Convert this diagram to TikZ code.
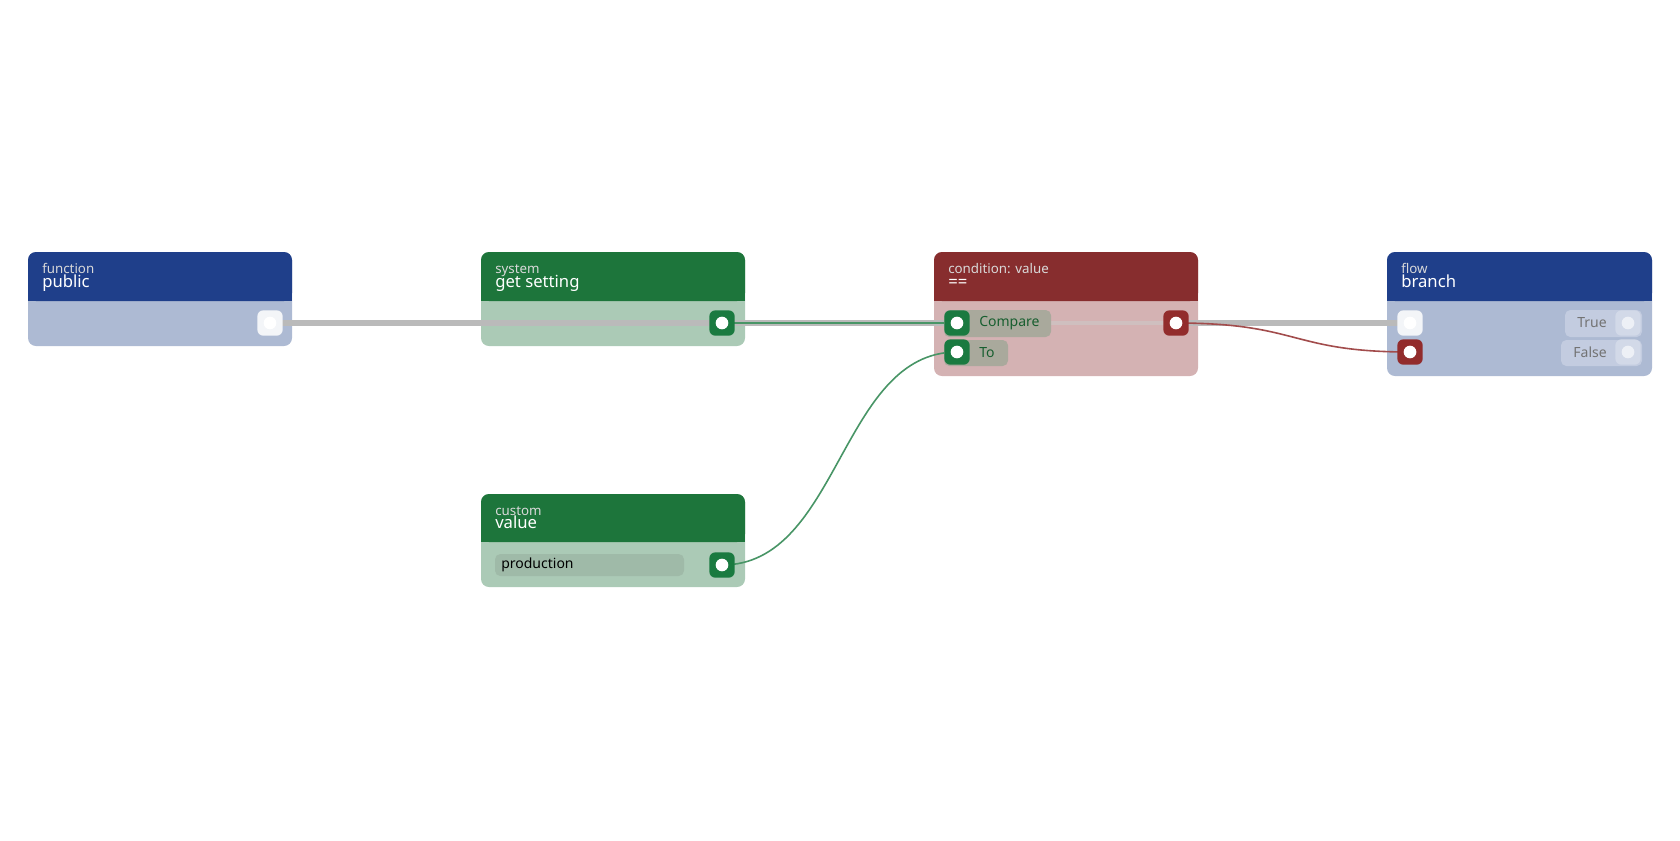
\documentclass[tikz,border=0pt]{standalone}
\usepackage{fontspec}
\setmainfont{Noto Sans}
\begin{document}
\begin{tikzpicture}[x=0.75pt,y=-0.75pt,
  port/.style={rounded corners=4.5pt, minimum size=19pt, inner sep=0},
  dot/.style={circle, fill=white, minimum size=9.5pt, inner sep=0},
  small/.style={anchor=base west, font=\fontsize{10}{10}\selectfont, text=white!85!black, inner sep=0},
  big/.style={anchor=base west, font=\fontsize{12.5}{12}\selectfont, text=white, inner sep=0},
  lbl/.style={font=\fontsize{10.5}{11}\selectfont, inner sep=0},
  gedge/.style={line width=3.8, draw=black!27}]
\definecolor{bh}{HTML}{1F3F8A}\definecolor{bb}{HTML}{ADBAD3}
\definecolor{gh}{HTML}{1D753B}\definecolor{gb}{HTML}{ABCAB6}
\definecolor{rh}{HTML}{872D2E}\definecolor{rb}{HTML}{D4B2B3}
\definecolor{gp}{HTML}{1A7A40}\definecolor{rp}{HTML}{922C2C}
\definecolor{chip}{HTML}{A9A99C}\definecolor{bchip}{HTML}{C3CCE0}
\definecolor{pchip}{HTML}{9FBAA8}
\useasboundingbox (0,0) rectangle (1680,840);
% bodies
\fill[bb,rounded corners=6] (28,252) rectangle (292,346);
\fill[bh,rounded corners=6] (28,252) rectangle (292,301); \fill[bh] (28,290) rectangle (292,301);
\fill[gb,rounded corners=6] (481,252) rectangle (745,346);
\fill[gh,rounded corners=6] (481,252) rectangle (745,301); \fill[gh] (481,290) rectangle (745,301);
\fill[gb,rounded corners=6] (481,494) rectangle (745,587);
\fill[gh,rounded corners=6] (481,494) rectangle (745,542); \fill[gh] (481,530) rectangle (745,542);
\fill[rb,rounded corners=6] (934,252) rectangle (1198,376);
\fill[rh,rounded corners=6] (934,252) rectangle (1198,301); \fill[rh] (934,290) rectangle (1198,301);
\fill[bb,rounded corners=6] (1387,252) rectangle (1652,376);
\fill[bh,rounded corners=6] (1387,252) rectangle (1652,301); \fill[bh] (1387,290) rectangle (1652,301);
% titles
\node[small] at (42,273) {function}; \node[big] at (42,287) {public};
\node[small] at (495,273) {system}; \node[big] at (495,287) {get setting};
\node[small] at (495,515) {custom}; \node[big] at (495,528) {value};
\node[small] at (948,273) {condition: value}; \node[big] at (948,287) {==};
\node[small] at (1401,273) {flow}; \node[big] at (1401,287) {branch};
% port coordinates
\coordinate (p1) at (270,323); \coordinate (p2) at (722,323); \coordinate (p3) at (722,565);
\coordinate (cc) at (957,323); \coordinate (ct) at (957,352); \coordinate (co) at (1176,323);
\coordinate (bi) at (1410,323); \coordinate (bf) at (1410,352);
% edges
\draw[gedge] (p1) -- (p2);
\draw[gedge] (p2) -- (cc);
\draw[gp!80,line width=1.2] (p2) -- (cc);
\draw[black!20,line width=3,opacity=0.5] (cc) -- (co);
\draw[gedge] (co) -- (bi);
\draw[rp!85,line width=1.2] (co) .. controls (1300,323) and (1290,352) .. (bf);
\draw[gp!80,line width=1.2] (p3) .. controls (840,565) and (840,352) .. (ct);
% chips
\fill[chip,rounded corners=4] (944,310) rectangle (1051,337);
\fill[chip,rounded corners=4] (944,340) rectangle (1008,366);
\node[lbl,text=gh!80!black,anchor=west] at (979,323) {Compare};
\node[lbl,text=gh!80!black,anchor=west] at (979,353) {To};
\fill[bchip,rounded corners=4] (1565,310) rectangle (1642,337);
\fill[bchip,rounded corners=4] (1561,340) rectangle (1642,366);
\node[lbl,text=black!55,anchor=east] at (1607,323) {True};
\node[lbl,text=black!55,anchor=east] at (1607,352) {False};
\fill[pchip,rounded corners=4] (495,554) rectangle (684,576);
\node[lbl,anchor=west] at (501,565) {production};
% ports
\node[port,fill=white!85!bb] (n1) at (p1) {}; \node[dot] at (p1) {};
\node[port,fill=gp] (n2) at (p2) {}; \node[dot] at (p2) {};
\node[port,fill=gp] (n3) at (p3) {}; \node[dot] at (p3) {};
\node[port,fill=gp] (n4) at (cc) {}; \node[dot] at (cc) {};
\node[port,fill=gp] (n5) at (ct) {}; \node[dot] at (ct) {};
\node[port,fill=rp] (n6) at (co) {}; \node[dot] at (co) {};
\node[port,fill=white!85!bb] (n7) at (bi) {}; \node[dot] at (bi) {};
\node[port,fill=rp] (n8) at (bf) {}; \node[dot] at (bf) {};
\node[port,fill=white!25!bchip] (n9) at (1628,323) {}; \node[dot,fill=white!70!bchip] at (1628,323) {};
\node[port,fill=white!25!bchip] (n10) at (1628,352) {}; \node[dot,fill=white!70!bchip] at (1628,352) {};
\end{tikzpicture}
\end{document}
